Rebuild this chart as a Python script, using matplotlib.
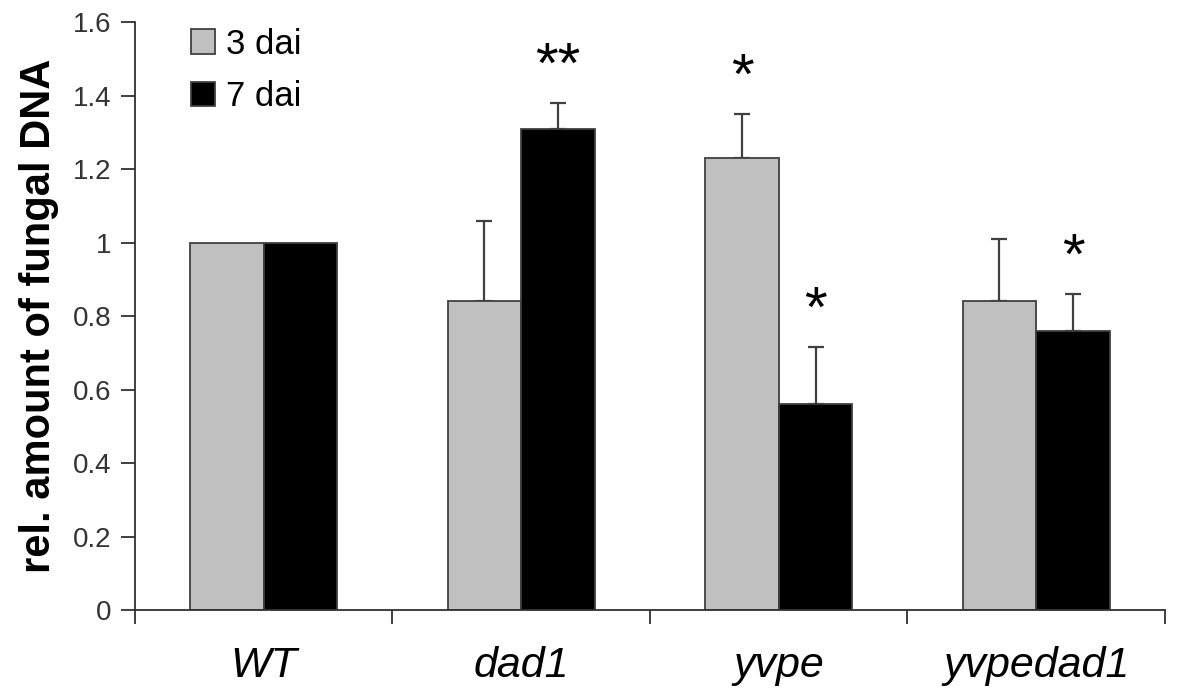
import numpy as np
import matplotlib
matplotlib.use("Agg")
import matplotlib.pyplot as plt

# values
genotypes = ["WT", "dad1", "yvpe", "yvpedad1"]
dai3 = [1.0, 0.84, 1.23, 0.84]
dai3_err = [0.0, 0.22, 0.12, 0.17]
dai7 = [1.0, 1.31, 0.56, 0.76]
dai7_err = [0.0, 0.07, 0.155, 0.10]
stars3 = ["", "", "*", ""]
stars7 = ["", "**", "*", "*"]

plt.rcParams['font.family'] = ['Liberation Sans', 'DejaVu Sans']

fig = plt.figure(figsize=(11.82, 6.92), dpi=100)
ax = fig.add_axes([0.1142, 0.1185, 0.8714, 0.8495])

x = np.arange(len(genotypes)) + 0.5
w = 1 / 3.5
edge = "#404040"

ax.bar(x - w / 2, dai3, w, color="#c0c0c0", edgecolor=edge, linewidth=1.3, label="3 dai", zorder=2)
ax.bar(x + w / 2, dai7, w, color="black", edgecolor=edge, linewidth=1.3, label="7 dai", zorder=2)

for xs, vals, errs in [(x - w / 2, dai3, dai3_err), (x + w / 2, dai7, dai7_err)]:
    for xi, v, e in zip(xs, vals, errs):
        if e > 0:
            ax.errorbar(xi, v, yerr=[[0], [e]], fmt="none", ecolor=edge,
                        elinewidth=1.6, capsize=5.5, capthick=1.6, zorder=1)

# significance stars above the error bars
for xs, vals, errs, stars in [(x - w / 2, dai3, dai3_err, stars3), (x + w / 2, dai7, dai7_err, stars7)]:
    for xi, v, e, s in zip(xs, vals, errs, stars):
        if s:
            ax.text(xi, v + e + 0.055, s, ha="center", va="baseline", fontsize=42)

ax.set_xlim(0, 4)
ax.set_ylim(0, 1.6)
ax.set_xticks([0, 1, 2, 3, 4])
ax.set_xticklabels([])
ax.set_xticks(x, minor=True)
ax.set_xticklabels(genotypes, minor=True, fontsize=31, style="italic")
ax.tick_params(axis="x", which="minor", length=0, pad=26)
ax.tick_params(axis="x", which="major", length=10, width=1.3, color="#303030")
ax.set_yticks(np.arange(0, 1.61, 0.2))
ax.set_yticklabels(["0", "0.2", "0.4", "0.6", "0.8", "1", "1.2", "1.4", "1.6"])
ax.tick_params(axis="y", length=10, width=1.3, color="#303030", labelsize=20,
               labelcolor="#333333", pad=7)

for side in ["top", "right"]:
    ax.spines[side].set_visible(False)
for side in ["left", "bottom"]:
    ax.spines[side].set_linewidth(1.3)
    ax.spines[side].set_color("#303030")

ax.set_ylabel("rel. amount of fungal DNA", fontsize=30, fontweight="bold", labelpad=10)

leg = ax.legend(loc="upper left", bbox_to_anchor=(0.041, 1.014), frameon=False,
                fontsize=25, handlelength=0.7, handleheight=0.7, handletextpad=0.3,
                labelspacing=0.55, borderaxespad=0)

fig.savefig("out.png", dpi=100)
